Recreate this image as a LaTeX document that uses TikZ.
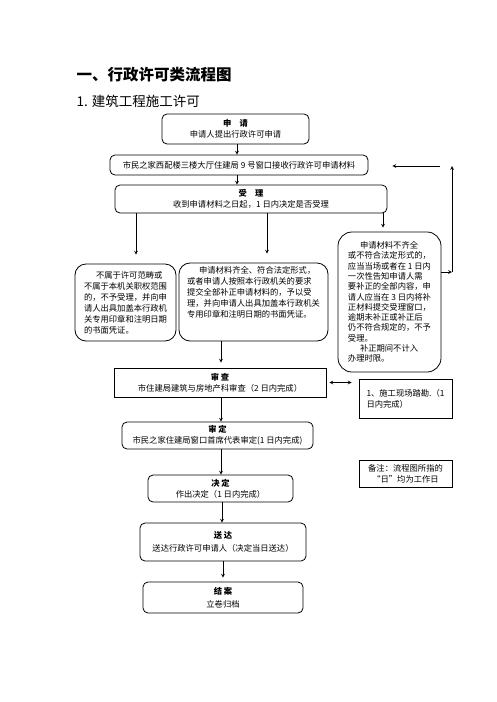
\documentclass[tikz,border=0pt]{standalone}
\usepackage{fontspec}
\setmainfont{Noto Sans CJK SC}
\usetikzlibrary{positioning}
\tikzstyle{flowChart} = [x = 1pt, y = -1pt]
\tikzstyle{flowBox} = [draw, line width=.8pt, inner sep=0pt, align=center, font=\bodyFont]
\tikzstyle{roundBox} = [flowBox, rounded corners = 5pt]
\tikzstyle{bigRoundBox} = [flowBox, rounded corners = 11pt, align=left]
\tikzstyle{flowArrow} = [->, >=stealth, line width=.7pt]
\newcommand{\bodyFont}{\fontsize{8.3}{11}\selectfont}
\newcommand{\stepTitle}[1]{{\bfseries #1}}

\begin{document}
\begin{tikzpicture}[flowChart]
  \useasboundingbox (0,0) rectangle (496,702);
  % titles
  \node [anchor=west, font=\fontsize{15.5}{18}\bfseries] (mainTitle) at (73,75) {一、行政许可类流程图};
  \node [anchor=west, font=\fontsize{13.5}{16}\selectfont] (subTitle) at (73,101) {1. 建筑工程施工许可};
  % main flow
  \node [roundBox, minimum width=147pt, minimum height=30pt] (apply) at (235.5,129)
    {\stepTitle{申\quad 请}\\申请人提出行政许可申请};
  \node [roundBox, minimum width=258pt, minimum height=20pt] (window) at (239,165)
    {市民之家西配楼三楼大厅住建局 9 号窗口接收行政许可申请材料};
  \node [roundBox, minimum width=272pt, minimum height=28pt] (accept) at (251,199)
    {\stepTitle{受\quad 理}\\收到申请材料之日起，1 日内决定是否受理};
  \node [bigRoundBox, minimum width=101pt, minimum height=77pt] (reject) at (125.5,302.5)
    {\quad\ \ 不属于许可范畴或\\不属于本机关职权范围\\的，不予受理，并向申\\请人出具加盖本行政机\\关专用印章和注明日期\\的书面凭证。};
  \node [bigRoundBox, minimum width=149pt, minimum height=78pt] (admit) at (253.5,302)
    {\quad\ \ 申请材料齐全、符合法定形式，\\或者申请人按照本行政机关的要求\\提交全部补正申请材料的，予以受\\理，并向申请人出具加盖本行政机关\\专用印章和注明日期的书面凭证。\\[10pt]};
  \node [bigRoundBox, rounded corners=14pt, minimum width=103pt, minimum height=140pt,
    font=\fontsize{8.3}{10.3}\selectfont] (supplement) at (389.5,302)
    {\quad\ \ 申请材料不齐全\\或不符合法定形式的，\\应当当场或者在 1 日内\\一次性告知申请人需\\要补正的全部内容，申\\请人应当在 3 日内将补\\正材料提交受理窗口，\\逾期未补正或补正后\\仍不符合规定的，不予\\受理。\\\quad\ \ 补正期间不计入\\办理时限。};
  \node [flowBox, minimum width=212pt, minimum height=29pt] (review) at (220,382.5)
    {\stepTitle{审 查}\\市住建局建筑与房地产科审查（2 日内完成）};
  \node [flowBox, minimum width=93pt, minimum height=39pt, align=left] (survey) at (405.5,398.5)
    {1、施工现场踏勘.（1\\日内完成）};
  \node [roundBox, minimum width=191pt, minimum height=27pt] (approve) at (217.5,435.5)
    {\stepTitle{审 定}\\市民之家住建局窗口首席代表审定(1 日内完成)};
  \node [flowBox, minimum width=93pt, minimum height=27pt] (remark) at (405.5,473.5)
    {备注：流程图所指的\\“日”均为工作日};
  \node [roundBox, minimum width=145pt, minimum height=27pt] (decide) at (220.5,488.5)
    {\stepTitle{决 定}\\作出决定（1 日内完成）};
  \node [roundBox, minimum width=166pt, minimum height=38pt] (deliver) at (223,542)
    {\stepTitle{送 达}\\[2pt]送达行政许可申请人（决定当日送达）};
  \node [roundBox, minimum width=160pt, minimum height=31pt] (close) at (223,597.5)
    {\stepTitle{结 案}\\[2pt]立卷归档};
  % connectors
  \draw [flowArrow] (apply.south) ++(1.5pt,0) -- ([xshift=1.5pt]apply.south |- window.north);
  \draw [flowArrow] ([xshift=-2pt]window.south) -- ([xshift=-2pt]window.south |- accept.north);
  \draw [flowArrow] ([xshift=10.5pt]reject.north |- accept.south) -- ([xshift=10.5pt, yshift=9pt]reject.north);
  \draw [flowArrow] ([xshift=13.5pt]admit.north |- accept.south) -- ([xshift=13.5pt, yshift=9pt]admit.north);
  \draw [flowArrow] ([xshift=-6.5pt]supplement.north |- accept.south) -- ([xshift=-6.5pt, yshift=4pt]supplement.north);
  \draw [flowArrow] ([xshift=1pt]review.north |- admit.south) -- ([xshift=1pt, yshift=5pt]review.north);
  \draw [flowArrow, <->] ([xshift=3pt]review.east) -- ([xshift=-7pt]survey.west |- review.east);
  \draw [flowArrow] ([xshift=1pt]review.south) -- ([xshift=1pt]review.south |- approve.north);
  \draw [flowArrow] ([xshift=3.5pt]approve.south) -- ([xshift=3.5pt]approve.south |- decide.north);
  \draw [flowArrow] ([xshift=1.5pt]decide.south) -- ([xshift=1.5pt]decide.south |- deliver.north);
  \draw [flowArrow] (deliver.south) -- ([yshift=4pt]close.north);
  % return loop
  \coordinate (loopBottom) at (452,272);
  \coordinate (loopTop) at (452,166);
  \draw [flowArrow] (supplement.east |- loopBottom) -- (loopBottom);
  \draw [flowArrow] (loopBottom) -- (loopTop);
  \draw [flowArrow] ([xshift=-12pt]loopTop) -- ([xshift=24pt]window.east |- loopTop);
\end{tikzpicture}
\end{document}
